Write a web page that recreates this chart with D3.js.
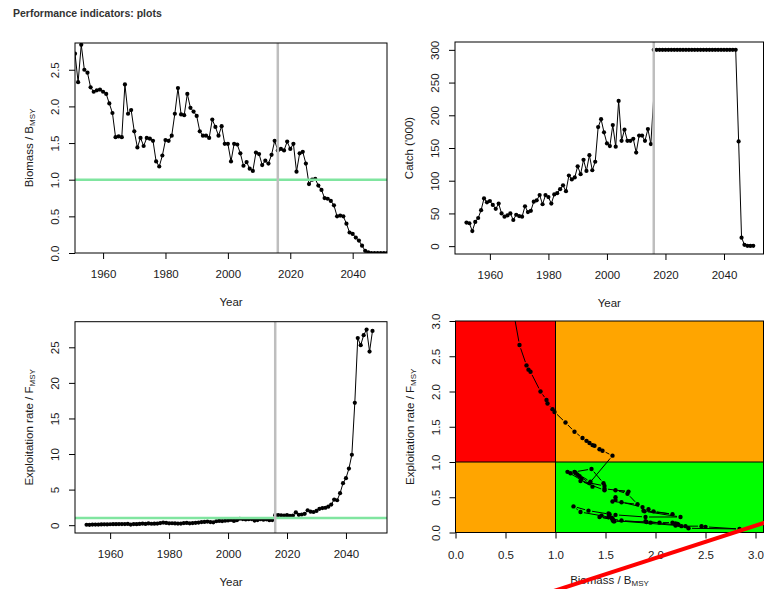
<!DOCTYPE html>
<html lang="en">
<head>
<meta charset="UTF-8">
<title>Performance indicators: plots</title>
<script src="https://d3js.org/d3.v7.min.js"></script>
<style>
  body { margin: 0; background: #fff; }
  svg { display: block; font-family: "Liberation Sans", Arial, sans-serif; }
  .tick text { font-size: 11.5px; fill: #1a1a1a; }
  .tick line { stroke: #000; stroke-width: 1; }
  .axis-title { font-size: 11.5px; fill: #1a1a1a; }
</style>
</head>
<body>
<div id="chart"></div>
<script>
// ---- data ----
const biomassYears = d3.range(1951, 2052);
const biomass = [
  2.72, 2.33, 2.84, 2.50, 2.46, 2.26, 2.20, 2.22, 2.23, 2.20,
  2.17, 2.04, 1.91, 1.58, 1.59, 1.58, 2.30, 1.90, 1.95, 1.66,
  1.44, 1.57, 1.46, 1.57, 1.56, 1.53, 1.25, 1.18, 1.33, 1.54,
  1.53, 1.60, 1.90, 2.25, 1.89, 1.88, 2.17, 1.98, 1.93, 1.87,
  1.66, 1.60, 1.60, 1.57, 1.82, 1.72, 1.60, 1.73, 1.49, 1.49,
  1.25, 1.49, 1.48, 1.36, 1.19, 1.24, 1.15, 1.12, 1.37, 1.35,
  1.20, 1.26, 1.22, 1.34, 1.53, 1.40, 1.42, 1.40, 1.52, 1.42,
  1.49, 1.11, 1.36, 1.38, 1.22, 0.94, 1.00, 1.01, 0.92, 0.86,
  0.75, 0.74, 0.71, 0.65, 0.50, 0.51, 0.50, 0.40, 0.28, 0.26,
  0.21, 0.17, 0.10, 0.03, 0.01, 0, 0, 0, 0, 0,
  0
];

// historic catch; the last value (2016) is joined by the line only
const catchHistYears = d3.range(1952, 2017);
const catchHist = [
  36, 35, 23, 37, 43, 55, 73, 67, 69, 63,
  57, 65, 50, 45, 47, 50, 40, 48, 46, 45,
  61, 52, 54, 68, 70, 78, 64, 78, 75, 65,
  79, 81, 87, 93, 84, 108, 102, 105, 122, 110,
  132, 115, 139, 116, 129, 182, 194, 174, 157, 153,
  185, 152, 222, 161, 178, 161, 161, 164, 143, 169,
  169, 161, 179, 156, 228
];
const catchProjYears = d3.range(2016, 2051);
const catchProj = [
  300, 300, 300, 300, 300, 300, 300, 300, 300, 300,
  300, 300, 300, 300, 300, 300, 300, 300, 300, 300,
  300, 300, 300, 300, 300, 300, 300, 300, 300,
  160, 13, 2, 0.5, 0.3, 0.5
];

const fHistYears = d3.range(1952, 2016);
const fHist = [
  0.06, 0.05, 0.08, 0.09, 0.09, 0.10, 0.12, 0.11, 0.13, 0.14,
  0.14, 0.15, 0.16, 0.16, 0.17, 0.09, 0.16, 0.14, 0.17, 0.22,
  0.18, 0.24, 0.20, 0.21, 0.22, 0.29, 0.37, 0.31, 0.26, 0.27,
  0.25, 0.22, 0.22, 0.30, 0.31, 0.26, 0.30, 0.33, 0.36, 0.43,
  0.46, 0.50, 0.44, 0.40, 0.55, 0.60, 0.58, 0.62, 0.66, 0.73,
  0.60, 0.70, 0.90, 0.86, 0.80, 0.84, 0.86, 0.65, 0.72, 0.85,
  0.76, 0.82, 0.70, 0.72
];
const fProjYears = d3.range(2016, 2050);
const fProj = [
  1.40, 1.42, 1.38, 1.35, 1.40, 1.30, 1.35, 1.80, 1.45, 1.50,
  1.60, 2.10, 1.90, 1.85, 2.00, 2.30, 2.40, 2.45, 2.60, 2.90,
  3.60, 3.50, 4.50, 5.90, 6.60, 7.95, 9.90, 17.2, 26.3, 25.3,
  26.7, 27.5, 24.4, 27.3
];

// Kobe: historic years paired from the series above, projection read separately
const kobeHistLastYear = 2014;
const kobeProjB = [1.57, 1.47, 1.44, 1.39, 1.37, 1.34, 1.31, 1.27, 1.19, 1.10, 0.99, 0.97, 0.92, 0.91, 0.85, 0.75, 0.73, 0.71, 0.64, 0.52, 0.44];
const kobeProjF = [1.09, 1.16, 1.18, 1.23, 1.24, 1.27, 1.30, 1.34, 1.43, 1.56, 1.71, 1.75, 1.83, 1.88, 2.00, 2.28, 2.31, 2.37, 2.66, 3.60, 4.60];
const redLineB = [0.9, 3.3];
const redLineF = [-0.868, 0.236];

const refYear = 2016;
const yearTicks = [1960, 1980, 2000, 2020, 2040];
const biomassTicks = [0, 0.5, 1, 1.5, 2, 2.5];
const catchTicks = [0, 50, 100, 150, 200, 250, 300];
const fTicks = [0, 5, 10, 15, 20, 25];
const kobeTicks = [0, 0.5, 1, 1.5, 2, 2.5, 3];

// ---- drawing ----
const W = 764, H = 589;
const R = 2.1; // point radius
const svg = d3.select("#chart").append("svg").attr("width", W).attr("height", H);
svg.append("rect").attr("width", W).attr("height", H).attr("fill", "#fff");

svg.append("text")
  .attr("x", 13).attr("y", 17)
  .attr("font-size", 10.5).attr("font-weight", "bold").attr("fill", "#333")
  .text("Performance indicators: plots");

const fmt1 = d3.format(".1f");
const fmt0 = d3.format("d");

function panel(o) {
  const x = d3.scaleLinear().domain(o.xDomain).range([o.box.x0, o.box.x1]);
  const y = d3.scaleLinear().domain(o.yDomain).range([o.box.y1, o.box.y0]);
  const g = svg.append("g");
  g.append("clipPath").attr("id", o.id).append("rect")
    .attr("x", o.box.x0).attr("y", o.box.y0)
    .attr("width", o.box.x1 - o.box.x0).attr("height", o.box.y1 - o.box.y0);
  const plot = g.append("g").attr("clip-path", `url(#${o.id})`);
  return { x, y, g, plot, o };
}

function finish(p) {
  const { g, x, y, o } = p;
  g.append("rect")
    .attr("x", o.box.x0).attr("y", o.box.y0)
    .attr("width", o.box.x1 - o.box.x0).attr("height", o.box.y1 - o.box.y0)
    .attr("fill", "none").attr("stroke", "#000").attr("stroke-width", 1);

  g.append("g").attr("transform", `translate(0,${o.box.y1})`)
    .call(d3.axisBottom(x).tickValues(o.xTicks).tickSize(6).tickSizeOuter(0).tickFormat(o.xFmt))
    .call(a => a.select(".domain").remove())
    .call(a => a.selectAll("text").attr("y", o.xLabOff || 25).attr("dy", 0));

  g.append("g").attr("transform", `translate(${o.box.x0},0)`)
    .call(d3.axisLeft(y).tickValues(o.yTicks).tickSize(6).tickSizeOuter(0).tickFormat(o.yFmt))
    .call(a => a.select(".domain").remove())
    .call(a => a.selectAll("text")
      .attr("x", 0).attr("y", -16).attr("dy", 0)
      .attr("text-anchor", "middle").attr("transform", "rotate(-90)"));

  g.append("text").attr("class", "axis-title")
    .attr("x", (o.box.x0 + o.box.x1) / 2).attr("y", o.box.y1 + (o.xTitleOff || 53))
    .attr("text-anchor", "middle")
    .call(t => o.xTitle.forEach(s => t.append("tspan").text(s.t)
      .attr("font-size", s.sub ? 8 : null).attr("dy", s.sub ? "0.3em" : null)));

  g.append("text").attr("class", "axis-title")
    .attr("transform", `translate(${o.box.x0 - 42},${(o.box.y0 + o.box.y1) / 2}) rotate(-90)`)
    .attr("text-anchor", "middle")
    .call(t => o.yTitle.forEach(s => t.append("tspan").text(s.t)
      .attr("font-size", s.sub ? 8 : null).attr("dy", s.sub ? "0.3em" : null)));
}

// type "o": line through all values, dots on the first `nDots`
function series(p, xs, ys, nDots) {
  const pts = xs.map((d, i) => [p.x(d), p.y(ys[i])]);
  p.plot.append("path").attr("d", d3.line()(pts))
    .attr("fill", "none").attr("stroke", "#000").attr("stroke-width", 1);
  p.plot.selectAll(null).data(pts.slice(0, nDots == null ? pts.length : nDots)).join("circle")
    .attr("cx", d => d[0]).attr("cy", d => d[1]).attr("r", R).attr("fill", "#000");
}

function refLines(p, hline) {
  if (hline != null) {
    p.plot.append("line")
      .attr("x1", p.o.box.x0).attr("x2", p.o.box.x1)
      .attr("y1", p.y(hline)).attr("y2", p.y(hline))
      .attr("stroke", "#80e5a0").attr("stroke-width", 2.5);
  }
  p.plot.append("line")
    .attr("x1", p.x(refYear)).attr("x2", p.x(refYear))
    .attr("y1", p.o.box.y0).attr("y2", p.o.box.y1)
    .attr("stroke", "#bebebe").attr("stroke-width", 2.5);
}

const Bmsy = [{ t: "Biomass / B" }, { t: "MSY", sub: true }];
const Fmsy = [{ t: "Exploitation rate /  F" }, { t: "MSY", sub: true }];
const yearTitle = [{ t: "Year" }];

// top left: biomass
const p1 = panel({
  id: "c1", box: { x0: 75, y0: 43, x1: 387, y1: 253 },
  xDomain: [1951, 2051], yDomain: [0, 2.865],
  xTicks: yearTicks, yTicks: biomassTicks, xFmt: fmt0, yFmt: fmt1,
  xTitle: yearTitle, yTitle: Bmsy
});
series(p1, biomassYears, biomass);
refLines(p1, 1);
finish(p1);

// top right: catch
const p2 = panel({
  id: "c2", box: { x0: 455, y0: 42, x1: 763.5, y1: 254 },
  xDomain: [1948.08, 2053.5], yDomain: [-12, 312],
  xTicks: yearTicks, yTicks: catchTicks, xFmt: fmt0, yFmt: fmt0,
  xTitle: yearTitle, yTitle: [{ t: "Catch ('000)" }]
});
series(p2, catchHistYears, catchHist, catchHist.length - 1);
series(p2, catchProjYears, catchProj);
refLines(p2, null);
finish(p2);

// bottom left: exploitation rate
const p3 = panel({
  id: "c3", box: { x0: 75, y0: 321.7, x1: 387, y1: 533 },
  xDomain: [1948.08, 2053.92], yDomain: [-1.1, 28.6],
  xTicks: yearTicks, yTicks: fTicks, xFmt: fmt0, yFmt: fmt0,
  xTitle: yearTitle, yTitle: Fmsy
});
series(p3, fHistYears, fHist);
series(p3, fProjYears, fProj);
refLines(p3, 1);
finish(p3);

// bottom right: Kobe plot
const p4 = panel({
  id: "c4", box: { x0: 455.5, y0: 321, x1: 763.5, y1: 532.5 },
  xDomain: [0, 3.08], yDomain: [0, 3],
  xTicks: kobeTicks, yTicks: kobeTicks, xFmt: fmt1, yFmt: fmt1,
  xTitle: Bmsy, yTitle: Fmsy, xLabOff: 26, xTitleOff: 51
});
const xMax = p4.x.domain()[1], yMax = p4.y.domain()[1];
const zones = [
  { x0: 0, x1: 1, y0: 1, y1: yMax, c: "#ff0000" },
  { x0: 1, x1: xMax, y0: 1, y1: yMax, c: "#ffa500" },
  { x0: 0, x1: 1, y0: 0, y1: 1, c: "#ffa500" },
  { x0: 1, x1: xMax, y0: 0, y1: 1, c: "#00ff00" }
];
p4.plot.selectAll(null).data(zones).join("rect")
  .attr("x", d => p4.x(d.x0)).attr("y", d => p4.y(d.y1))
  .attr("width", d => p4.x(d.x1) - p4.x(d.x0)).attr("height", d => p4.y(d.y0) - p4.y(d.y1))
  .attr("fill", d => d.c);
p4.plot.append("line").attr("x1", p4.x(1)).attr("x2", p4.x(1))
  .attr("y1", p4.y(0)).attr("y2", p4.y(yMax)).attr("stroke", "#000");
p4.plot.append("line").attr("x1", p4.x(0)).attr("x2", p4.x(xMax))
  .attr("y1", p4.y(1)).attr("y2", p4.y(1)).attr("stroke", "#000");

const kobeB = [], kobeF = [];
fHistYears.forEach((yr, i) => {
  if (yr > kobeHistLastYear) return;
  kobeB.push(biomass[biomassYears.indexOf(yr)]);
  kobeF.push(fHist[i]);
});
kobeProjB.forEach((b, i) => { kobeB.push(b); kobeF.push(kobeProjF[i]); });

// type "b": segments with gaps round the points
const kp = kobeB.map((b, i) => [p4.x(b), p4.y(kobeF[i])]);
const gap = 3.5;
const segs = [];
for (let i = 1; i < kp.length; i++) {
  const [ax, ay] = kp[i - 1], [bx, by] = kp[i];
  const len = Math.hypot(bx - ax, by - ay);
  if (len <= 2 * gap) continue;
  const ux = (bx - ax) / len, uy = (by - ay) / len;
  segs.push([ax + ux * gap, ay + uy * gap, bx - ux * gap, by - uy * gap]);
}
p4.plot.selectAll(null).data(segs).join("line")
  .attr("x1", d => d[0]).attr("y1", d => d[1]).attr("x2", d => d[2]).attr("y2", d => d[3])
  .attr("stroke", "#000").attr("stroke-width", 1);
p4.plot.selectAll(null).data(kp).join("circle")
  .attr("cx", d => d[0]).attr("cy", d => d[1]).attr("r", 2.2).attr("fill", "#000");
finish(p4);

// red reference line is drawn unclipped, on top
svg.append("line")
  .attr("x1", p4.x(redLineB[0])).attr("y1", p4.y(redLineF[0]))
  .attr("x2", p4.x(redLineB[1])).attr("y2", p4.y(redLineF[1]))
  .attr("stroke", "#ff0000").attr("stroke-width", 4);
</script>
</body>
</html>
